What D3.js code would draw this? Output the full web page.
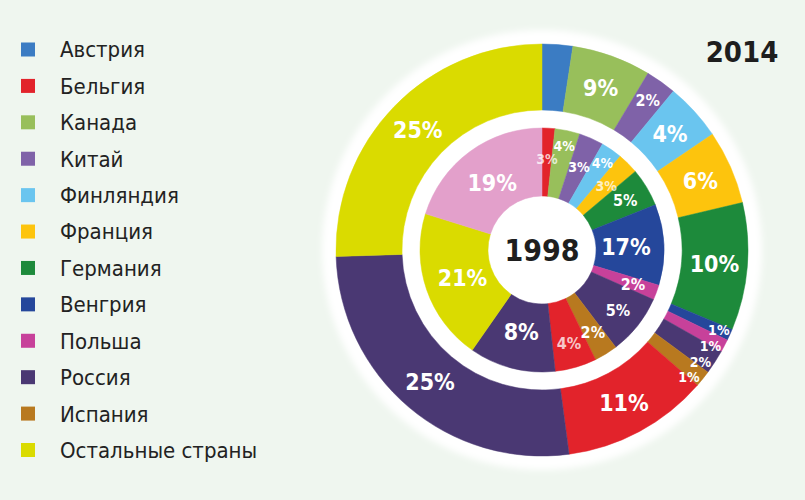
<!DOCTYPE html>
<html>
<head>
<meta charset="utf-8">
<script src="https://cdn.jsdelivr.net/npm/d3@7"></script>
<style>
  html, body { margin: 0; padding: 0; background: #eff6ef; }
  svg { display: block; }
  text { font-family: "DejaVu Sans Condensed", "DejaVu Sans", sans-serif; }
</style>
</head>
<body>
<svg width="805" height="500"></svg>
<script>
// legend categories and their colours (last colour is the unlabelled pink slice)
var countries = ["Австрия", "Бельгия", "Канада", "Китай", "Финляндия", "Франция",
  "Германия", "Венгрия", "Польша", "Россия", "Испания", "Остальные страны"];
var colors = ["#3b7cc3", "#e2232b", "#98bf5b", "#7f62a8", "#6ac5ef", "#fdc40d",
  "#1d8a3b", "#25479b", "#c7419a", "#4a3873", "#b8791f", "#dadb00", "#e3a0cb"];

// 2014 (outer ring): colour key, share of ring as drawn, printed label
var outerKeys   = [0, 2, 3, 4, 5, 6, 7, 8, 9, 10, 1, 9, 11];
var outerShare  = [2.4, 6.2, 2.4, 4.5, 5.8, 10.0, 0.9, 1.0, 1.9, 1.3, 11.5, 26.6, 25.5];
var outerLabels = ["", "9%", "2%", "4%", "6%", "10%", "1%", "1%", "2%", "1%", "11%", "25%", "25%"];

// 1998 (inner ring)
var innerKeys   = [1, 2, 3, 4, 5, 6, 7, 8, 9, 10, 1, 9, 11, 12];
var innerShare  = [1.7, 3.3, 3.25, 2.8, 2.8, 5.1, 10.7, 2.0, 8.0, 3.1, 5.5, 11.4, 20.1, 20.2];
var innerLabels = ["3%", "4%", "3%", "4%", "3%", "5%", "17%", "2%", "5%", "2%", "4%", "8%", "21%", "19%"];

var years = ["1998", "2014"];

var svg = d3.select("svg");
var cx = 542, cy = 250;

// soft white halo behind both rings
var defs = svg.append("defs");
defs.append("filter").attr("id", "soft")
  .attr("x", "-10%").attr("y", "-10%").attr("width", "120%").attr("height", "120%")
  .append("feGaussianBlur").attr("stdDeviation", 3);

var g = svg.append("g").attr("transform", "translate(" + cx + "," + cy + ")");
g.append("circle").attr("r", 220).attr("fill", "#ffffff").attr("filter", "url(#soft)");

var pie = d3.pie().sort(null).value(function(d) { return d.share; });

function rows(keys, share, labels) {
  return keys.map(function(k, i) { return {key: k, share: share[i], label: labels[i]}; });
}

// label angle = mid angle, but keep a minimum gap between neighbouring thin slices
function labelAngles(arcs, minGap) {
  var prev = -Infinity;
  return arcs.map(function(d) {
    var a = (d.startAngle + d.endAngle) / 2;
    if (d.data.share < 2 && a - prev < minGap) a = prev + minGap;
    prev = d.data.share < 2 ? a : -Infinity;
    return a;
  });
}

function drawRing(data, r0, r1, fontSize, labelR, opacity) {
  var arcs = pie(data);
  var arc = d3.arc().innerRadius(r0).outerRadius(r1);
  var angles = labelAngles(arcs, 5.5 * Math.PI / 180);
  var ring = g.append("g");

  ring.selectAll("path")
    .data(arcs)
    .enter()
    .append("path")
      .attr("d", arc)
      .attr("fill", function(d) { return colors[d.data.key]; })
      .attr("stroke", function(d) { return colors[d.data.key]; })
      .attr("stroke-width", 0.5);

  ring.selectAll("text")
    .data(arcs)
    .enter()
    .append("text")
      .attr("transform", function(d, i) {
        var r = labelR(d);
        var a = angles[i];
        return "translate(" + (r * Math.sin(a)) + "," + (-r * Math.cos(a)) + ")";
      })
      .attr("text-anchor", "middle")
      .attr("dy", "0.36em")
      .attr("fill", "#ffffff")
      .attr("fill-opacity", opacity)
      .attr("font-weight", "bold")
      .attr("font-size", fontSize)
      .text(function(d) { return d.data.label; });
}

drawRing(rows(outerKeys, outerShare, outerLabels), 140, 206,
  function(d) { return d.data.share >= 4 ? 23 : (d.data.share >= 2 ? 16 : 14); },
  function(d) { return d.data.share >= 4 ? 173 : (d.data.share >= 2 ? 183 : 194); },
  function() { return 1; });

drawRing(rows(innerKeys, innerShare, innerLabels), 54, 122,
  function(d) { return d.data.share >= 9 ? 23 : (d.index < 5 ? 14 : 16); },
  function(d) {
    if (d.data.share >= 9) return 84;
    if (d.index < 5) return d.index % 2 ? 106 : 91;
    return 97;
  },
  function(d) { return (d.data.key === 1 || d.data.key === 5) ? 0.75 : 1; });

// year captions
g.append("text")
  .attr("text-anchor", "middle")
  .attr("dy", "0.36em")
  .attr("font-size", 30)
  .attr("font-weight", "bold")
  .attr("fill", "#1e1e1e")
  .text(years[0]);

svg.append("text")
  .attr("x", 742).attr("y", 52)
  .attr("text-anchor", "middle")
  .attr("dy", "0.36em")
  .attr("font-size", 29)
  .attr("font-weight", "bold")
  .attr("fill", "#1e1e1e")
  .text(years[1]);

// legend
var y = d3.scalePoint().domain(countries).range([49.5, 450]);
var legend = svg.append("g");
var item = legend.selectAll("g")
  .data(countries)
  .enter()
  .append("g")
    .attr("transform", function(d) { return "translate(0," + y(d) + ")"; });

item.append("rect")
  .attr("x", 21).attr("y", -7)
  .attr("width", 14).attr("height", 14)
  .attr("fill", function(d, i) { return colors[i]; });

item.append("text")
  .attr("x", 60)
  .attr("dy", "0.36em")
  .attr("font-size", 22)
  .attr("fill", "#222222")
  .text(function(d) { return d; });
</script>
</body>
</html>
